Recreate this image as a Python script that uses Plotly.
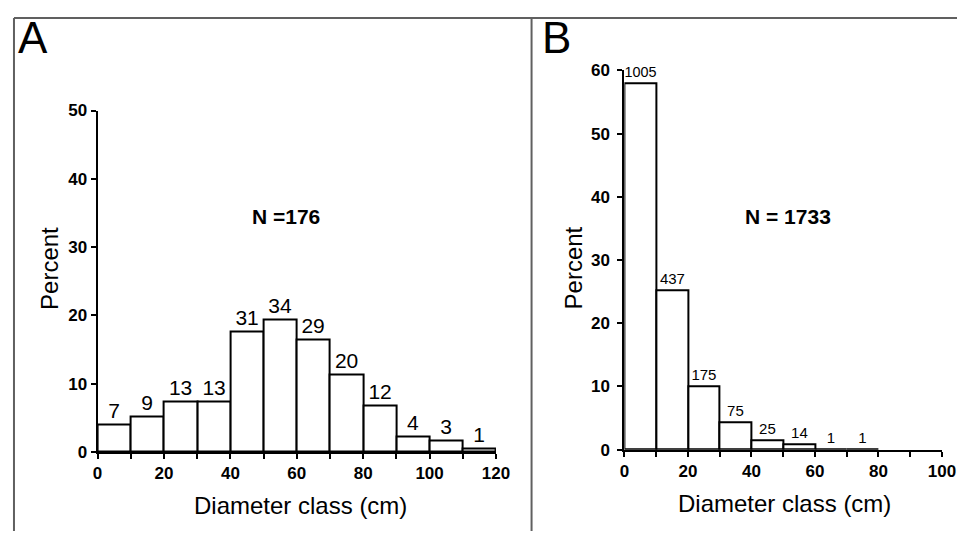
import plotly.graph_objects as go

# The page body keeps the browser's default 8px margin, so the figure is
# sized to fit the 979x549 window inside it; coordinates below are given in
# window pixels and converted with OFF.
WIN_W, WIN_H = 979, 549
OFF = 8
W, H = WIN_W - 2 * OFF, WIN_H - 2 * OFF

# Panel A data
a_bins_left = [0, 10, 20, 30, 40, 50, 60, 70, 80, 90, 100, 110]
a_counts = [7, 9, 13, 13, 31, 34, 29, 20, 12, 4, 3, 1]
a_total = 176
# Panel B data
b_bins_left = [0, 10, 20, 30, 40, 50, 60, 70]
b_counts = [1005, 437, 175, 75, 25, 14, 1, 1]
b_total = 1733

bin_width = 10

a_pct = [c / a_total * 100 for c in a_counts]
b_pct = [c / b_total * 100 for c in b_counts]


def px_x(x):
    return (x - OFF) / W


def px_y(y):
    return 1 - (y - OFF) / H


fig = go.Figure()

bar_style = dict(marker=dict(color="white", line=dict(color="black", width=2)),
                 width=bin_width, textposition="outside", cliponaxis=False,
                 showlegend=False, hoverinfo="skip")

fig.add_trace(go.Bar(x=[l + bin_width / 2 for l in a_bins_left], y=a_pct,
                     text=[str(c) for c in a_counts],
                     textfont=dict(family="Liberation Sans", size=21, color="black"),
                     xaxis="x", yaxis="y", **bar_style))
fig.add_trace(go.Bar(x=[l + bin_width / 2 for l in b_bins_left], y=b_pct,
                     text=[str(c) for c in b_counts],
                     textfont=dict(family="Liberation Sans", size=15, color="black"),
                     xaxis="x2", yaxis="y2", **bar_style))

tickfont = dict(family="Liberation Sans", size=17, color="black", weight="bold")

a_xticks = list(range(0, 121, 10))
b_xticks = list(range(0, 101, 10))


def xaxis(domain, ticks, anchor):
    return dict(domain=domain, range=[0, ticks[-1]], tickvals=ticks,
                ticktext=[str(t) if t % 20 == 0 else "" for t in ticks],
                showline=True, linecolor="black", linewidth=2,
                ticks="outside", ticklen=5, tickwidth=1.5, tickcolor="black",
                showgrid=False, zeroline=False, tickfont=tickfont, anchor=anchor,
                fixedrange=True)


def yaxis(domain, top, anchor, standoff=0):
    return dict(domain=domain, range=[0, top], tickvals=list(range(0, top + 1, 10)),
                showline=True, linecolor="black", linewidth=2,
                ticks="outside", ticklen=5, tickwidth=1.5, tickcolor="black",
                showgrid=False, zeroline=False, tickfont=tickfont, anchor=anchor,
                ticklabelstandoff=standoff, fixedrange=True)


fig.update_layout(
    width=W, height=H, autosize=False,
    margin=dict(l=0, r=0, t=0, b=0),
    paper_bgcolor="white", plot_bgcolor="rgba(0,0,0,0)",
    bargap=0,
    xaxis=xaxis([px_x(94.3), px_x(500.7)], a_xticks, "y"),
    yaxis=yaxis([px_y(459), px_y(105)], 50, "x"),
    xaxis2=xaxis([px_x(631.7), px_x(955.7)], b_xticks, "y2"),
    yaxis2=yaxis([px_y(456.7), px_y(63.3)], 60, "x2", standoff=4),
)

annots = [
    ("A", 28.3, 29, 44, "normal", 0),
    ("B", 562.5, 29, 44, "normal", 0),
    ("N =176", 287, 215, 21, "bold", 0),
    ("N = 1733", 799, 215, 21, "bold", 0),
    ("Percent", 45, 269, 24, "normal", -90),
    ("Percent", 580, 268, 24, "normal", -90),
    ("Diameter class (cm)", 301, 515, 24, "normal", 0),
    ("Diameter class (cm)", 795, 513, 24, "normal", 0),
]
for text, x, y, size, weight, ang in annots:
    fig.add_annotation(text=text, x=px_x(x), y=px_y(y), xref="paper", yref="paper",
                       showarrow=False, xanchor="center", yanchor="middle",
                       textangle=ang,
                       font=dict(family="Liberation Sans", size=size, color="black",
                                 weight=weight))

border = dict(color="#606060", width=2)
top_y = 1 - 1 / H
left_x = 1 / W
fig.add_shape(type="line", xref="paper", yref="paper", x0=left_x, x1=1,
              y0=top_y, y1=top_y, line=border)
fig.add_shape(type="line", xref="paper", yref="paper", x0=left_x, x1=left_x,
              y0=0, y1=top_y, line=border)
fig.add_shape(type="line", xref="paper", yref="paper", x0=px_x(537), x1=px_x(537),
              y0=0, y1=top_y, line=border)

fig.write_html("out.html", config={"displayModeBar": False})
